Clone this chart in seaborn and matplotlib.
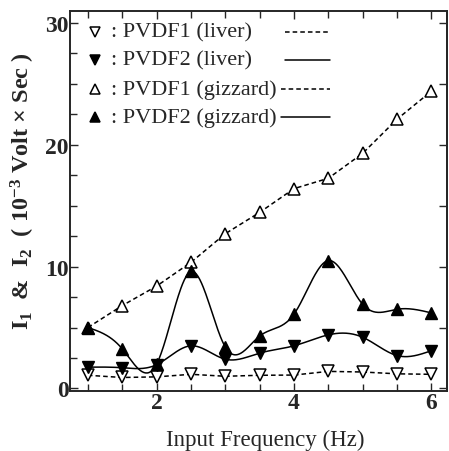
import numpy as np
import pandas as pd
import matplotlib
matplotlib.use("Agg")
import matplotlib.pyplot as plt
from matplotlib.ticker import MultipleLocator
import seaborn as sns

# --- data ---
freq = [1.0, 1.5, 2.0, 2.5, 3.0, 3.5, 4.0, 4.5, 5.0, 5.5, 6.0]
pvdf1_liver = [1.08, 0.9, 0.95, 1.16, 1.0, 1.08, 1.1, 1.4, 1.35, 1.2, 1.16]
pvdf2_liver = [1.75, 1.7, 1.95, 3.5, 2.4, 2.9, 3.5, 4.4, 4.2, 2.7, 3.1]
pvdf1_gizzard = [5.0, 6.8, 8.4, 10.35, 12.7, 14.45, 16.4, 17.25, 19.3, 22.1, 24.4]
pvdf2_gizzard = [5.0, 3.25, 2.0, 9.6, 3.4, 4.3, 6.1, 10.5, 6.9, 6.5, 6.2]

legend_labels = [": PVDF1 (liver)", ": PVDF2 (liver)", ": PVDF1 (gizzard)", ": PVDF2 (gizzard)"]


def natural_spline(x, y, n=400):
    # natural cubic spline through the points, only used to draw the smooth curve
    x = np.asarray(x, float)
    y = np.asarray(y, float)
    m = len(x)
    h = np.diff(x)
    A = np.zeros((m, m))
    b = np.zeros(m)
    A[0, 0] = A[-1, -1] = 1
    for i in range(1, m - 1):
        A[i, i - 1] = h[i - 1]
        A[i, i] = 2 * (h[i - 1] + h[i])
        A[i, i + 1] = h[i]
        b[i] = 3 * ((y[i + 1] - y[i]) / h[i] - (y[i] - y[i - 1]) / h[i - 1])
    c = np.linalg.solve(A, b)
    xs = np.linspace(x[0], x[-1], n)
    idx = np.clip(np.searchsorted(x, xs) - 1, 0, m - 2)
    dx = xs - x[idx]
    bb = (y[idx + 1] - y[idx]) / h[idx] - h[idx] * (2 * c[idx] + c[idx + 1]) / 3
    d = (c[idx + 1] - c[idx]) / (3 * h[idx])
    ys = y[idx] + bb * dx + c[idx] * dx ** 2 + d * dx ** 3
    return xs, ys


sns.set_style("ticks")
plt.rcParams['font.family'] = ['Liberation Serif', 'DejaVu Serif']
plt.rcParams['mathtext.fontset'] = 'custom'
plt.rcParams['mathtext.rm'] = 'Liberation Serif'
plt.rcParams['mathtext.bf'] = 'Liberation Serif:bold'
plt.rcParams['mathtext.default'] = 'bf'

fig = plt.figure(figsize=(4.49, 4.52), dpi=100)
ax = fig.add_axes([0.156, 0.133, 0.84, 0.841])

df = pd.DataFrame({'freq': freq, 'l1': pvdf1_liver, 'l2': pvdf2_liver,
                   'g1': pvdf1_gizzard, 'g2': pvdf2_gizzard})

lw = 1.1
dash = (0, (3, 2))
# dashed straight lines for PVDF1
sns.lineplot(data=df, x='freq', y='l1', ax=ax, color='black', lw=lw, linestyle=dash)
sns.lineplot(data=df, x='freq', y='g1', ax=ax, color='black', lw=lw, linestyle=dash)
# smooth solid curves for PVDF2
for col in ['l2', 'g2']:
    xs, ys = natural_spline(df['freq'], df[col])
    sns.lineplot(x=xs, y=ys, ax=ax, color='black', lw=lw, sort=False)

ms = 8
ax.plot(df['freq'], df['l1'], 'v', ms=ms, mfc='white', mec='black', mew=1.1, ls='none')
ax.plot(df['freq'], df['l2'], 'v', ms=ms, mfc='black', mec='black', ls='none')
ax.plot(df['freq'], df['g1'], '^', ms=ms, mfc='white', mec='black', mew=1.1, ls='none')
ax.plot(df['freq'], df['g2'], '^', ms=ms, mfc='black', mec='black', ls='none')

ax.set_xlim(0.74, 6.23)
ax.set_ylim(-0.2, 31.0)
ax.xaxis.set_major_locator(MultipleLocator(2))
ax.xaxis.set_minor_locator(MultipleLocator(0.5))
ax.yaxis.set_major_locator(MultipleLocator(10))
ax.yaxis.set_minor_locator(MultipleLocator(2.5))
ax.tick_params(which='both', direction='in', top=True, right=False, width=1.0,
               labelsize=17, pad=1)
ax.tick_params(which='major', length=6)
ax.tick_params(which='minor', length=5)
for lab in ax.get_xticklabels() + ax.get_yticklabels():
    lab.set_fontweight('bold')

sec = ax.secondary_yaxis('right')
sec.yaxis.set_major_locator(MultipleLocator(5))
sec.tick_params(direction='in', length=6, width=1.0, labelright=False)

for s in ax.spines.values():
    s.set_linewidth(1.4)
sec.spines['right'].set_linewidth(1.4)

ax.set_xlabel('Input Frequency (Hz)', fontsize=16.5)
ax.xaxis.set_label_coords(0.518, -0.1)
ax.set_ylabel(r'I$_1$  &  I$_2$  ( 10$^{-3}$ Volt × Sec )', fontsize=17.5,
              fontweight='bold')
ax.yaxis.set_label_coords(-0.088, 0.527)

# legend drawn by hand: marker, label, line sample
markers = [('v', 'white'), ('v', 'black'), ('^', 'white'), ('^', 'black')]
styles = [dash, '-', dash, '-']
line_starts = [0.57, 0.57, 0.56, 0.56]
for i, (lab, (mk, fc), st, x0) in enumerate(zip(legend_labels, markers, styles, line_starts)):
    yy = 0.945 - i * 0.075
    ax.plot([0.066], [yy], mk, ms=6.5, mfc=fc, mec='black', mew=1.1, transform=ax.transAxes)
    ax.text(0.108, yy, lab, transform=ax.transAxes, fontsize=16, va='center', ha='left')
    ax.plot([x0, 0.69], [yy, yy], color='black', lw=lw, linestyle=st, transform=ax.transAxes)

fig.savefig('out.png', dpi=100)
